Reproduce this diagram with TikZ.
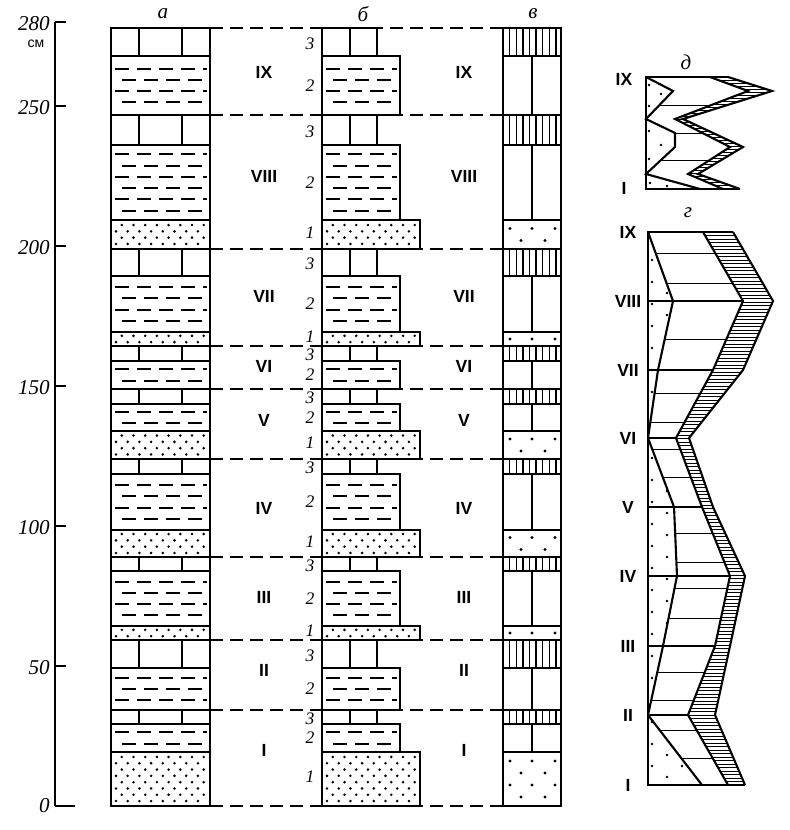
\documentclass[tikz,border=0pt]{standalone}
\usepackage{fontspec}
\setmainfont{Liberation Serif}
\setsansfont{Liberation Sans}
\usepackage{tikz}
\tikzstyle{bed}=[draw=black,line width=1.3pt,fill=white]
\tikzstyle{joint}=[line width=0.8pt]
\tikzstyle{claydash}=[line width=1.1pt,dash pattern=on 2.8mm off 1.6mm]
\tikzstyle{cycleline}=[line width=0.8pt,dash pattern=on 2.6mm off 1.4mm]
\tikzstyle{profile}=[line width=1.2pt,line join=miter]
\tikzstyle{hatch}=[line width=0.5pt]
\tikzstyle{numeral}=[font=\sffamily\bfseries\fontsize{10}{12}\selectfont,inner sep=0pt]
\tikzstyle{bedno}=[font=\itshape\fontsize{10}{12}\selectfont,inner sep=0pt]
\tikzstyle{scaleno}=[font=\itshape\fontsize{12}{14}\selectfont,inner sep=0pt,anchor=east]
\tikzstyle{colname}=[font=\itshape\fontsize{12}{14}\selectfont,inner sep=0pt]
% limestone: box with joints (#5 = x of the joints)
\newcommand\limebed[5]{%
  \draw[bed] (#1,#3) rectangle (#2,#4);
  \foreach \jx in {#5} \draw[joint] (\jx,#3) -- (\jx,#4);}
% clay: rows of dashes
\newcommand\claybed[4]{%
  \draw[bed] (#1,#3) rectangle (#2,#4);
  \pgfmathtruncatemacro\clayrows{round((#4-#3-6)/12.5)}
  \pgfmathsetmacro\yfirst{#3+(#4-#3-(\clayrows-1)*11.3)/2}
  \foreach \r in {1,...,\clayrows} {
    \pgfmathsetmacro\yrow{\yfirst+(\r-1)*11.3}
    \pgfmathsetmacro\xstart{#1+4+7*(1-mod(\r,2))}
    \draw[claydash] (\xstart,\yrow) -- ({#2-3},\yrow);
  }}
% sand: dense dots
\newcommand\sandbed[4]{%
  \draw[bed] (#1,#3) rectangle (#2,#4);
  \begin{scope}
    \clip ({#1+3},{#3+2}) rectangle ({#2-3},{#4-2});
    \pgfmathtruncatemacro\sandrows{max(1,(#4-#3)/6.3)}
    \pgfmathsetmacro\yfirst{#3+(#4-#3-(\sandrows-1)*6.3)/2}
    \foreach \r in {1,...,\sandrows}
      \foreach \c in {0,...,9}
        \fill ({#1+5+11.7*\c+5.8*mod(\r,2)},{\yfirst+(\r-1)*6.3}) circle (0.8pt);
  \end{scope}}
% sand in column v: sparse dots
\newcommand\grainbed[4]{%
  \draw[bed] (#1,#3) rectangle (#2,#4);
  \pgfmathtruncatemacro\grainrows{max(1,(#4-#3)/13)}
  \pgfmathsetmacro\yfirst{#3+(#4-#3-(\grainrows-1)*12)/2}
  \foreach \r in {1,...,\grainrows} {
    \pgfmathsetmacro\yrow{\yfirst+(\r-1)*12}
    \ifodd\r\relax
      {\foreach \gx in {7,29,52} {\fill ({#1+\gx},\yrow) circle (0.9pt);}}
    \else
      {\foreach \gx in {18,42} {\fill ({#1+\gx},\yrow) circle (0.9pt);}}
    \fi}}
% limestone in column v: vertical hatching
\newcommand\hatchbed[4]{%
  \draw[bed] (#1,#3) rectangle (#2,#4);
  \foreach \k in {1,...,8} \draw[joint] ({#1+6.6*\k},#3) -- ({#1+6.6*\k},#4);}

\begin{document}
\begin{tikzpicture}[x=0.2mm,y=-0.2mm]
  \useasboundingbox (0,0) rectangle (789,830);
  % scale
  \draw[line width=0.6pt] (55,22) -- (55,806);
  \foreach \v in {280,250,200,150,100,50} {
    \draw[joint] (55,{806-2.8*\v}) -- ++(11,0);
    \node[scaleno] (cm\v) at (50,{806-2.8*\v+2}) {\v};
  }
  \draw[joint] (55,806) -- (75,806);
  \node[scaleno] (cm0) at (50,806) {0};
  \node[font=\sffamily\fontsize{8}{9}\selectfont,inner sep=0pt] (unit) at (36,44) {см};
  % column names
  \node[colname] (col-a) at (163,14) {а};
  \node[colname] (col-b) at (363,14) {б};
  \node[colname] (col-v) at (533,14) {в};
  \node[colname] (col-d) at (686,62) {д};
  \node[colname] (col-g) at (688,213) {г};
  % cycle boundaries
  \foreach \cy in {28,115,249,346,389,459,557,640,710,806}
    \draw[cycleline] (210,\cy) -- (503,\cy);
  % beds: 1 sand, 2 clay, 3 limestone
  \foreach \t/\ya/\yb in {3/28/56, 2/56/115, 3/115/145, 2/145/220, 1/220/249,
      3/249/276, 2/276/332, 1/332/346, 3/346/361, 2/361/389, 3/389/404, 2/404/431,
      1/431/459, 3/459/474, 2/474/530, 1/530/557, 3/557/571, 2/571/626, 1/626/640,
      3/640/668, 2/668/710, 3/710/724, 2/724/752, 1/752/806} {
    \ifcase\t\or
      \sandbed{111}{210}{\ya}{\yb}
      \sandbed{322}{420}{\ya}{\yb}
      \grainbed{503}{561}{\ya}{\yb}
    \or
      \claybed{111}{210}{\ya}{\yb}
      \claybed{322}{400}{\ya}{\yb}
      \limebed{503}{561}{\ya}{\yb}{532}
    \or
      \limebed{111}{210}{\ya}{\yb}{139,182}
      \limebed{322}{377}{\ya}{\yb}{350}
      \hatchbed{503}{561}{\ya}{\yb}
    \fi
    \node[bedno] (no-\ya) at (310,{(\ya+\yb)/2-2*(\t==1)+1.5*(\t==3)}) {\t};
  }
  % cycle numbers
  \foreach \rn/\ry in {IX/72, VIII/176, VII/296, VI/366, V/420, IV/508, III/597, II/670, I/750} {
    \node[numeral] (left-\rn) at (264,\ry) {\rn};
    \node[numeral] (right-\rn) at (464,\ry) {\rn};
  }
  % column g
  \foreach \n/\ly/\sx/\lx/\rx in {9/232/648/703/733, 8/301/673/743/773, 7/370/658/713/743,
      6/438/648/676/689, 5/507/674/702/713, 4/576/677/730/745, 3/646/663/715/730,
      2/715/648/688/715, 1/785/702/728/745} {
    \coordinate (ge\n) at (648,\ly);
    \coordinate (gs\n) at (\sx,\ly);
    \coordinate (gl\n) at (\lx,\ly);
    \coordinate (gr\n) at (\rx,\ly);
  }
  \begin{scope}
    \clip (gl9) \foreach \n in {8,...,1} { -- (gl\n) } \foreach \n in {1,...,9} { -- (gr\n) } -- cycle;
    \foreach \k in {0,...,158} \draw[hatch] (640,{232+3.5*\k}) -- (790,{232+3.5*\k});
  \end{scope}
  \begin{scope}
    \clip (ge9) \foreach \n in {9,...,1} { -- (gs\n) } -- (ge1) -- cycle;
    \foreach \k in {0,...,49} \foreach \c in {0,1}
      \fill ({652+15*mod(\k,2)+30*\c},{238+11*\k}) circle (0.8pt);
  \end{scope}
  \begin{scope}
    \clip (gs9) \foreach \n in {8,...,1} { -- (gs\n) } \foreach \n in {1,...,9} { -- (gl\n) } -- cycle;
    \foreach \hy in {253,283,339,393,422,449,477,533,562,588,618,672,700,730,758}
      \draw[hatch] (640,\hy) -- (790,\hy);
  \end{scope}
  \foreach \n in {2,...,8} \draw[profile] (ge\n) -- (gl\n);
  \draw[profile] (gr9) -- (ge9) -- (ge1) -- (gr1);
  \draw[profile] (gs9) \foreach \n in {8,...,1} { -- (gs\n) };
  \draw[profile] (gl9) \foreach \n in {8,...,1} { -- (gl\n) };
  \draw[profile] (gr9) \foreach \n in {8,...,1} { -- (gr\n) };
  \foreach \rn/\n in {IX/9, VIII/8, VII/7, VI/6, V/5, IV/4, III/3, II/2, I/1}
    \node[numeral] (g-\rn) at ([xshift=-4mm]ge\n) {\rn};
  % column d
  \foreach \n/\ly/\sx/\lx/\rx in {9/77/646/710/728, 8/91/673/748/772, 6/119/646/675/683,
      4/147/675/730/743, 2/174/646/688/698, 1/189/700/723/740} {
    \coordinate (de\n) at (646,\ly);
    \coordinate (ds\n) at (\sx,\ly);
    \coordinate (dl\n) at (\lx,\ly);
    \coordinate (dr\n) at (\rx,\ly);
  }
  \coordinate (ds5) at (675,133);
  \begin{scope}
    \clip (dl9) -- (dl8) -- (dl6) -- (dl4) -- (dl2) -- (dl1) -- (dr1) -- (dr2) -- (dr4) -- (dr6) -- (dr8) -- (dr9) -- cycle;
    \foreach \k in {0,...,38} \draw[hatch] (640,{77+3*\k}) -- (790,{77+3*\k});
  \end{scope}
  \begin{scope}
    \clip (ds9) -- (ds8) -- (ds6) -- (ds5) -- (ds4) -- (ds2) -- (ds1) -- (dl1) -- (dl2) -- (dl4) -- (dl6) -- (dl8) -- (dl9) -- cycle;
    \foreach \hy in {105,133,160} \draw[hatch] (640,\hy) -- (790,\hy);
  \end{scope}
  \foreach \p in {(649,85),(661,94),(649,106),(649,131),(661,145),(649,159),(650,183),(667,186)}
    \fill \p circle (0.8pt);
  \draw[profile] (dr9) -- (de9) -- (de1) -- (dr1);
  \draw[profile] (ds9) -- (ds8) -- (ds6) -- (ds5) -- (ds4) -- (ds2) -- (ds1);
  \draw[profile] (dl9) -- (dl8) -- (dl6) -- (dl4) -- (dl2) -- (dl1);
  \draw[profile] (dr9) -- (dr8) -- (dr6) -- (dr4) -- (dr2) -- (dr1);
  \node[numeral] (d-IX) at (624,79) {IX};
  \node[numeral] (d-I) at (624,188) {I};
\end{tikzpicture}
\end{document}
